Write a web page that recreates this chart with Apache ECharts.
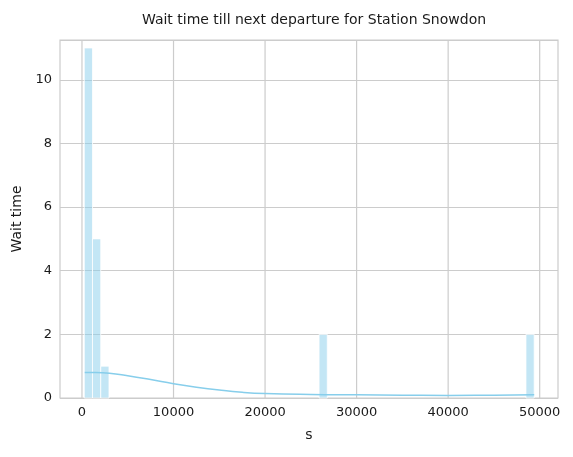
<!DOCTYPE html>
<html>
<head>
<meta charset="utf-8">
<script src="https://cdn.jsdelivr.net/npm/echarts@6/dist/echarts.min.js"></script>
<style>html,body{margin:0;padding:0;background:#fff}#main{width:573px;height:457px}</style>
</head>
<body>
<div id="main"></div>
<script>
// histogram bins: [start, end, count]
var binStart = [250, 1150, 2050, 25900, 48500];
var binEnd   = [1150, 2050, 2950, 26800, 49400];
var counts   = [11, 5, 1, 2, 2];
// kde curve
var kdeX = [300, 1500, 3000, 5000, 7500, 10000, 12500, 15000, 17500, 20000, 25000, 30000, 35000, 40000, 45000, 49400];
var kdeY = [0.8, 0.8, 0.78, 0.7, 0.58, 0.45, 0.34, 0.25, 0.18, 0.14, 0.11, 0.1, 0.09, 0.08, 0.09, 0.1];
var xTicks = [0, 10000, 20000, 30000, 40000, 50000];

var bins = binStart.map(function (s, i) { return [s, binEnd[i], counts[i]]; });
var kde = kdeX.map(function (x, i) { return [x, kdeY[i]]; });

var chart = echarts.init(document.getElementById('main'));
var font = 'DejaVu Sans';
chart.setOption({
  animation: false,
  textStyle: { fontFamily: font },
  title: {
    text: 'Wait time till next departure for Station Snowdon',
    left: 309, top: 8, textAlign: 'center',
    textStyle: { fontSize: 14, fontWeight: 'normal', color: '#1a1a1a', fontFamily: font }
  },
  grid: { left: 60, right: 15, top: 40, bottom: 59, show: true, borderColor: '#cccccc', borderWidth: 1.2 },
  xAxis: {
    type: 'value', min: -2400, max: 52000,
    name: 's', nameLocation: 'middle', nameGap: 30,
    nameTextStyle: { fontSize: 14, color: '#1a1a1a' },
    axisLine: { show: false }, axisTick: { show: false },
    axisLabel: { color: '#1a1a1a', fontSize: 13, customValues: xTicks,
      formatter: function (v) { return String(v); } },
    splitLine: { show: false }
  },
  yAxis: {
    type: 'value', min: 0, max: 11.25, interval: 2,
    name: 'Wait time', nameLocation: 'middle', nameGap: 36,
    nameTextStyle: { fontSize: 14, color: '#1a1a1a' },
    axisLine: { show: false }, axisTick: { show: false },
    axisLabel: { color: '#1a1a1a', fontSize: 13, showMaxLabel: false },
    splitLine: { lineStyle: { color: '#cccccc', width: 1.2 } }
  },
  series: [
    {
      type: 'custom', silent: true, z: 1,
      renderItem: function (params, api) {
        var v = xTicks[params.dataIndex];
        var p = api.coord([v, 0]);
        var top = api.coord([v, 11.25]);
        return { type: 'line', shape: { x1: p[0], y1: p[1], x2: top[0], y2: top[1] },
          style: { stroke: '#cccccc', lineWidth: 1.2 } };
      },
      data: xTicks.map(function (v) { return [v, 0]; })
    },
    {
      type: 'custom', z: 2,
      renderItem: function (params, api) {
        var a = api.coord([api.value(0), 0]);
        var b = api.coord([api.value(1), api.value(2)]);
        return { type: 'rect',
          shape: { x: a[0], y: b[1], width: b[0] - a[0], height: a[1] - b[1] },
          style: { fill: 'rgba(135,206,235,0.5)', stroke: '#ffffff', lineWidth: 0.8 } };
      },
      encode: { x: [0, 1], y: 2 },
      data: bins
    },
    {
      type: 'line', z: 3, smooth: true, showSymbol: false,
      lineStyle: { color: '#87ceeb', width: 1.5 },
      data: kde
    }
  ]
});
</script>
</body>
</html>
